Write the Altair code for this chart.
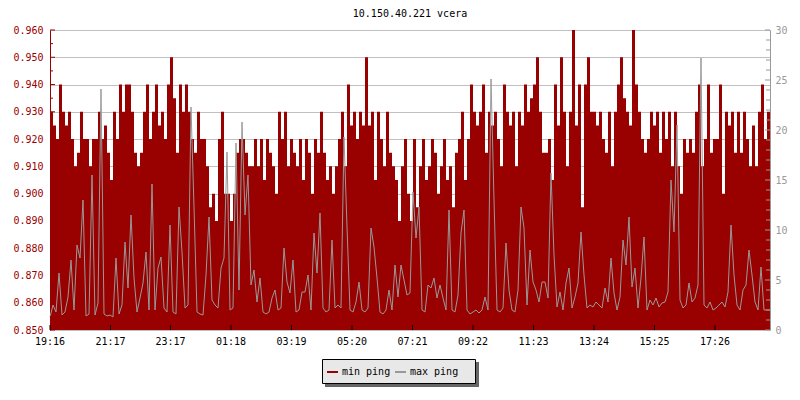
import altair as alt
import pandas as pd

FONT = "DejaVu Sans Mono"
RED = "#990000"
GRAY = "#999999"

title_text = "10.150.40.221 vcera"

# sampling: 24 h starting at 19:16, 240 samples of 6 minutes
start_time = "2020-01-01 19:16"
step_minutes = 6

# min ping (ms, left axis)
min_ping = [
    0.930, 0.925, 0.920, 0.940, 0.930, 0.925, 0.930, 0.920, 0.910, 0.915,
    0.930, 0.920, 0.920, 0.910, 0.920, 0.920, 0.930, 0.920, 0.925, 0.915,
    0.905, 0.930, 0.920, 0.940, 0.930, 0.940, 0.940, 0.930, 0.915, 0.910,
    0.915, 0.930, 0.940, 0.920, 0.930, 0.940, 0.925, 0.930, 0.920, 0.940,
    0.950, 0.935, 0.915, 0.940, 0.930, 0.940, 0.930, 0.920, 0.915, 0.930,
    0.920, 0.920, 0.910, 0.895, 0.900, 0.890, 0.920, 0.930, 0.900, 0.900,
    0.890, 0.900, 0.915, 0.920, 0.920, 0.915, 0.910, 0.910, 0.920, 0.910,
    0.920, 0.905, 0.920, 0.915, 0.910, 0.900, 0.930, 0.920, 0.930, 0.910,
    0.920, 0.915, 0.910, 0.920, 0.905, 0.920, 0.915, 0.900, 0.920, 0.915,
    0.930, 0.915, 0.905, 0.910, 0.900, 0.910, 0.920, 0.930, 0.910, 0.940,
    0.925, 0.930, 0.920, 0.930, 0.925, 0.950, 0.925, 0.930, 0.905, 0.930,
    0.920, 0.910, 0.930, 0.915, 0.910, 0.905, 0.890, 0.910, 0.920, 0.900,
    0.890, 0.920, 0.895, 0.910, 0.920, 0.905, 0.910, 0.920, 0.915, 0.900,
    0.910, 0.920, 0.905, 0.910, 0.895, 0.915, 0.920, 0.930, 0.905, 0.920,
    0.940, 0.930, 0.925, 0.930, 0.940, 0.915, 0.930, 0.925, 0.930, 0.920,
    0.910, 0.940, 0.930, 0.925, 0.930, 0.910, 0.930, 0.925, 0.940, 0.930,
    0.935, 0.940, 0.950, 0.930, 0.915, 0.915, 0.920, 0.905, 0.940, 0.925,
    0.950, 0.930, 0.910, 0.930, 0.960, 0.925, 0.940, 0.895, 0.940, 0.950,
    0.930, 0.930, 0.925, 0.930, 0.920, 0.915, 0.930, 0.910, 0.930, 0.940,
    0.950, 0.935, 0.930, 0.925, 0.960, 0.940, 0.930, 0.920, 0.915, 0.920,
    0.930, 0.925, 0.930, 0.915, 0.930, 0.920, 0.930, 0.910, 0.930, 0.910,
    0.900, 0.920, 0.915, 0.920, 0.915, 0.930, 0.940, 0.910, 0.920, 0.940,
    0.915, 0.920, 0.920, 0.940, 0.900, 0.930, 0.925, 0.930, 0.915, 0.930,
    0.915, 0.930, 0.920, 0.910, 0.925, 0.910, 0.930, 0.940, 0.920, 0.930,
]

# max ping (ms, right axis)
max_ping = [
    1.3, 2.5, 1.8, 5.7, 1.5, 1.8, 3.3, 7.0, 2.0, 8.5,
    7.2, 13.0, 1.4, 1.6, 15.5, 1.5, 2.7, 24.1, 1.6, 1.4,
    1.5, 1.3, 7.2, 1.6, 2.5, 8.8, 4.2, 11.5, 5.2, 1.8,
    3.2, 4.7, 7.8, 2.0, 14.6, 2.0, 6.2, 7.3, 2.2, 1.8,
    10.5, 1.8, 1.6, 12.3, 7.8, 2.2, 2.5, 22.3, 12.3, 1.8,
    1.6, 1.5, 5.5, 11.3, 3.0, 2.5, 2.2, 6.2, 7.2, 17.8,
    2.0, 2.2, 18.7, 4.0, 20.8, 11.5, 15.5, 4.5, 6.0, 2.8,
    5.2, 1.8, 1.6, 1.8, 3.2, 4.0, 2.0, 2.2, 8.2, 4.8,
    3.7, 7.0, 1.8, 2.0, 3.8, 3.8, 5.5, 2.0, 9.7, 5.7,
    11.7, 2.2, 1.8, 2.0, 9.0, 2.2, 2.5, 2.2, 19.3, 10.3,
    2.0, 1.8, 2.8, 4.8, 2.0, 1.8, 2.2, 10.2, 8.3, 5.2,
    1.8, 1.6, 2.0, 4.0, 2.0, 6.5, 3.3, 6.5, 5.0, 3.5,
    3.7, 13.8, 9.2, 12.3, 2.0, 1.8, 4.5, 4.2, 5.2, 3.2,
    4.5, 3.2, 2.0, 12.0, 2.0, 1.8, 3.5, 9.7, 12.0, 2.0,
    1.6, 1.8, 2.0, 1.7, 2.0, 3.3, 2.0, 25.1, 13.0, 2.0,
    1.8, 2.2, 8.7, 4.0, 2.0, 1.8, 4.0, 12.3, 10.2, 2.5,
    8.0, 4.8, 4.0, 2.8, 4.8, 4.8, 3.2, 15.7, 7.5, 2.3,
    3.8, 2.0, 4.7, 6.2, 2.2, 3.3, 4.7, 9.8, 5.5, 2.2,
    2.5, 2.3, 2.8, 2.5, 2.2, 4.2, 2.8, 7.2, 3.7, 2.0,
    3.3, 9.0, 6.5, 11.3, 4.3, 6.2, 2.2, 5.2, 9.3, 2.0,
    3.0, 2.5, 3.2, 2.3, 2.7, 2.8, 3.8, 15.0, 9.8, 20.5,
    3.0, 2.2, 2.5, 4.7, 2.8, 3.2, 4.5, 27.2, 2.5, 2.2,
    2.8, 2.0, 2.2, 2.5, 2.8, 2.3, 3.8, 10.5, 5.5, 2.5,
    2.0, 4.0, 4.5, 8.0, 5.5, 2.8, 2.0, 6.3, 2.0, 2.0,
]

# axis ticks and labels
x_tick_labels = ["19:16", "21:17", "23:17", "01:18", "03:19", "05:20",
                 "07:21", "09:22", "11:23", "13:24", "15:25", "17:26"]
left_major = [0.850, 0.860, 0.870, 0.880, 0.890, 0.900, 0.910, 0.920,
              0.930, 0.940, 0.950, 0.960]
left_minor = [0.855, 0.865, 0.875, 0.885, 0.895, 0.905, 0.915, 0.925,
              0.935, 0.945, 0.955]
right_major = [0, 5, 10, 15, 20, 25, 30]
right_minor = [1, 2, 3, 4, 6, 7, 8, 9, 11, 12, 13, 14, 16, 17, 18, 19,
               21, 22, 23, 24, 26, 27, 28, 29]
legend_labels = ["min ping", "max ping"]

# ---- build tables -------------------------------------------------------
t0 = pd.Timestamp(start_time)
n = len(min_ping)
times = [t0 + pd.Timedelta(minutes=i * step_minutes) for i in range(n + 1)]
df = pd.DataFrame({
    "time": times,
    "min": min_ping + [min_ping[-1]],
    "max": max_ping + [max_ping[-1]],
})
t_end = times[-1]


def to_dt(ts):
    return alt.DateTime(year=ts.year, month=ts.month, date=ts.day,
                        hours=ts.hour, minutes=ts.minute)


# tick times from the tick labels (rolling over midnight)
tick_times = []
day = 0
prev = -1
for lab in x_tick_labels:
    hh, mm = map(int, lab.split(":"))
    m = hh * 60 + mm
    if m < prev:
        day += 1
    prev = m
    tick_times.append(t0.normalize() + pd.Timedelta(days=day, minutes=m))
tick_df = pd.DataFrame({"time": tick_times, "label": x_tick_labels})

x_scale = alt.Scale(domain=[to_dt(t0), to_dt(t_end)], nice=False)
yl_scale = alt.Scale(domain=[0.85, 0.96], nice=False, zero=False)
yr_scale = alt.Scale(domain=[0, 30], nice=False, zero=False)

x_axis = alt.Axis(values=[to_dt(t) for t in tick_times], labels=False,
                  title=None, grid=False, ticks=False, domainColor="black")

red = alt.Chart(df).mark_area(interpolate="step-after", color=RED).encode(
    x=alt.X("time:T", scale=x_scale, axis=x_axis),
    y=alt.Y("min:Q", scale=yl_scale,
            axis=alt.Axis(orient="left", values=left_major, format=".3f",
                          title=None, ticks=False, domainColor=RED,
                          labelColor=RED, labelFont=FONT, labelFontSize=10,
                          labelPadding=7, grid=True, gridColor="#c0c0c0",
                          gridWidth=1)),
    y2=alt.Y2Datum(0.85),
)

gray = alt.Chart(df).mark_line(color=GRAY, strokeWidth=1).encode(
    x=alt.X("time:T", scale=x_scale, axis=None),
    y=alt.Y("max:Q", scale=yr_scale,
            axis=alt.Axis(orient="right", values=right_major, title=None,
                          ticks=False, grid=False, domainColor=GRAY,
                          labelColor=GRAY, labelFont=FONT, labelFontSize=10,
                          labelPadding=5)),
)

lmaj = alt.Chart(pd.DataFrame({"v": left_major})).mark_rule(color=RED).encode(
    y=alt.Y("v:Q", scale=yl_scale, axis=None), x=alt.value(0), x2=alt.value(5))
lmin = alt.Chart(pd.DataFrame({"v": left_minor})).mark_rule(color=RED).encode(
    y=alt.Y("v:Q", scale=yl_scale, axis=None), x=alt.value(0), x2=alt.value(3))
rmaj = alt.Chart(pd.DataFrame({"v": right_major})).mark_rule(color=GRAY).encode(
    y=alt.Y("v:Q", scale=yr_scale, axis=None), x=alt.value(715), x2=alt.value(720))
rmin = alt.Chart(pd.DataFrame({"v": right_minor})).mark_rule(color=GRAY).encode(
    y=alt.Y("v:Q", scale=yr_scale, axis=None), x=alt.value(716), x2=alt.value(720))
xt = alt.Chart(tick_df).mark_rule(color="black").encode(
    x=alt.X("time:T", scale=x_scale, axis=None), y=alt.value(295), y2=alt.value(300))
xlab = alt.Chart(tick_df).mark_text(
    font=FONT, fontSize=10, color="black", align="center", baseline="top"
).encode(x=alt.X("time:T", scale=x_scale, axis=None), y=alt.value(307),
         text="label:N")

# chart title as a text mark centred over the plot
title_mark = alt.Chart(pd.DataFrame({"t": [title_text]})).mark_text(
    font=FONT, fontSize=10, color="black", align="center", baseline="middle"
).encode(text="t:N", x=alt.value(360), y=alt.value(-16))

# legend box (plain marks so the drop shadow can be reproduced)
one = pd.DataFrame({"k": [0]})
shadow = alt.Chart(one).mark_rect(color="#666666").encode(
    x=alt.value(275), x2=alt.value(429), y=alt.value(332), y2=alt.value(357))
box = alt.Chart(one).mark_rect(fill="#e8e8e8", stroke="black", strokeWidth=1).encode(
    x=alt.value(272.5), x2=alt.value(425.5), y=alt.value(329.5), y2=alt.value(353.5))
leg1_line = alt.Chart(one).mark_rule(color=RED, strokeWidth=2).encode(
    x=alt.value(277), x2=alt.value(288), y=alt.value(342))
leg1_text = alt.Chart(pd.DataFrame({"t": [legend_labels[0]]})).mark_text(
    font=FONT, fontSize=10, align="left", baseline="alphabetic", color="black"
).encode(text="t:N", x=alt.value(292), y=alt.value(345))
leg2_line = alt.Chart(one).mark_rule(color=GRAY, strokeWidth=2).encode(
    x=alt.value(345), x2=alt.value(356), y=alt.value(342))
leg2_text = alt.Chart(pd.DataFrame({"t": [legend_labels[1]]})).mark_text(
    font=FONT, fontSize=10, align="left", baseline="alphabetic", color="black"
).encode(text="t:N", x=alt.value(360), y=alt.value(345))

chart = alt.layer(
    red, gray, lmaj, lmin, rmaj, rmin, xt, xlab, title_mark,
    shadow, box, leg1_line, leg1_text, leg2_line, leg2_text,
).resolve_scale(y="independent").properties(
    width=720,
    height=300,
    autosize=alt.AutoSizeParams(type="none"),
    padding={"left": 42, "top": 22, "right": 22, "bottom": 62},
).configure_view(stroke=None).configure(background="white")

chart.save("out.html", embed_options={"renderer": "svg", "actions": False})
